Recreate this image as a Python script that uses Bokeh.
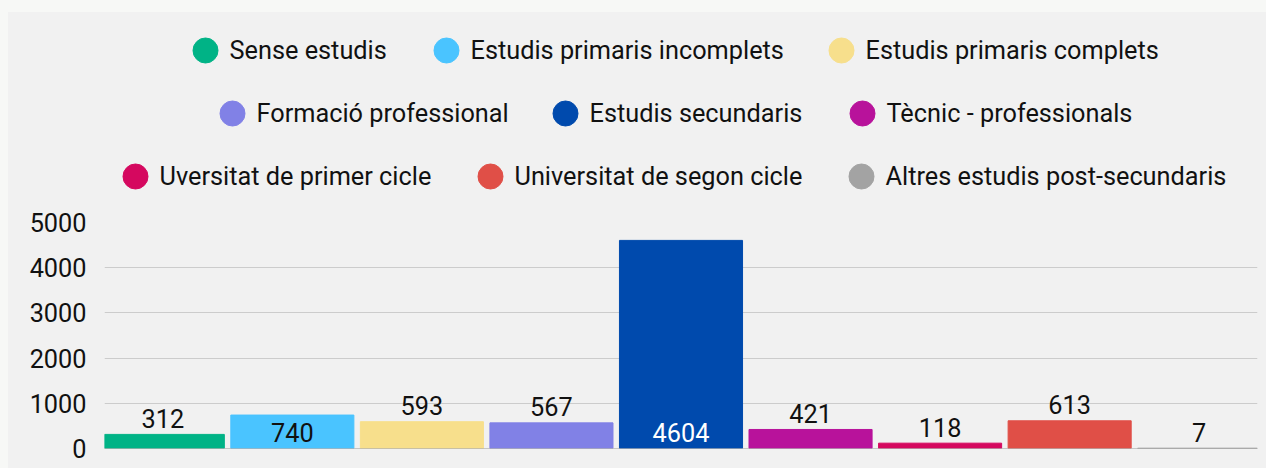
from bokeh.plotting import figure
from bokeh.models import FactorRange, Range1d, Span, FixedTicker, ColumnDataSource
from bokeh.layouts import column
from bokeh.core.properties import value
from bokeh.embed import file_html
from bokeh.resources import INLINE

categories = ["Sense estudis", "Estudis primaris incomplets", "Estudis primaris complets",
              "Formació professional", "Estudis secundaris", "Tècnic - professionals",
              "Uversitat de primer cicle", "Universitat de segon cicle",
              "Altres estudis post-secundaris"]
values = [312, 740, 593, 567, 4604, 421, 118, 613, 7]
colors = ["#00b386", "#4ac4ff", "#f7df8c", "#8181e6", "#004aad", "#b8129b",
          "#d5085f", "#e04f47", "#a3a3a3"]
label_inside = [False, True, False, False, True, False, False, False, False]
label_colors = ["#111111", "#111111", "#111111", "#111111", "#ffffff", "#111111",
                "#111111", "#111111", "#111111"]
y_ticks = [0, 1000, 2000, 3000, 4000, 5000]

FONT = "Roboto"
FS = "25.3px"
BG = "#f1f1f1"
W = 1258
BL, BR = 96, 9          # left / right borders of the plotting frame
BAR_W = 0.95

# ---- legend (layout in screen pixels of the legend panel) ----
legend_rows = [[0, 1, 2], [3, 4, 5], [6, 7, 8]]
legend_row_y = [38, 101, 164]
legend_circle_x = [[197, 438, 833], [224, 557, 854], [127, 482, 853]]
LEG_H = 194

lx, ly, ltx, lcol, ltxt = [], [], [], [], []
for r, row in enumerate(legend_rows):
    for k, i in enumerate(row):
        cx = legend_circle_x[r][k]
        lx.append(cx)
        ltx.append(cx + 24)
        ly.append(legend_row_y[r])
        lcol.append(colors[i])
        ltxt.append(categories[i])

lg = figure(width=W, height=LEG_H, x_range=Range1d(BL, W - BR), y_range=Range1d(LEG_H, 0),
            x_axis_type=None, y_axis_type=None,
            output_backend="svg", toolbar_location=None,
            background_fill_color=BG, border_fill_color=BG,
            min_border_left=BL, min_border_right=BR, min_border_top=0, min_border_bottom=0)
lg.outline_line_color = None
lg.grid.visible = False
lg.scatter(x=lx, y=ly, size=25, color=lcol, marker="circle")
lg.text(x=ltx, y=ly, text=ltxt, text_align="left", text_baseline="middle",
        text_font=value(FONT), text_font_size=FS, text_color="#111111")

# ---- bar chart ----
src = ColumnDataSource(dict(
    cat=categories, val=values, color=colors,
    label=[str(v) for v in values],
    label_y=[0 if ins else v for v, ins in zip(values, label_inside)],
    label_color=label_colors,
))

xr = FactorRange(*categories, range_padding=-(1 - BAR_W), range_padding_units="absolute")
p = figure(x_range=xr, y_range=Range1d(0, 5000),
           width=W, height=468 - 12 - LEG_H, output_backend="svg", toolbar_location=None,
           background_fill_color=BG, border_fill_color=BG,
           min_border_left=BL, min_border_right=BR, min_border_bottom=20,
           min_border_top=16)
p.outline_line_color = None

p.vbar(x="cat", top="val", width=BAR_W, color="color", source=src)

p.text(x="cat", y="label_y", text="label", source=src, text_align="center",
       text_baseline="alphabetic", y_offset=-16, text_color="label_color",
       text_font=value(FONT), text_font_size=FS)

p.xaxis.visible = False
p.xgrid.grid_line_color = None
p.yaxis.ticker = FixedTicker(ticks=y_ticks)
p.ygrid.ticker = FixedTicker(ticks=y_ticks)
p.ygrid.grid_line_color = "#cccccc"
p.yaxis.axis_line_color = None
p.yaxis.major_tick_line_color = None
p.yaxis.minor_tick_line_color = None
p.yaxis.major_tick_out = 0
p.yaxis.major_label_standoff = 18
p.yaxis.major_label_text_font = FONT
p.yaxis.major_label_text_font_size = FS
p.yaxis.major_label_text_color = "#111111"

p.add_layout(Span(location=0, dimension="width", line_color="#999999",
                  line_width=1, level="overlay"))

inner = column(lg, p, spacing=0, width=W, height=468 - 12, margin=(12, 0, 0, 8),
               styles={"background-color": BG})
layout = column(inner, width=1266, height=468,
                styles={"background-color": "#f7f8f6"})

open("out.html", "w").write(file_html(layout, INLINE))
